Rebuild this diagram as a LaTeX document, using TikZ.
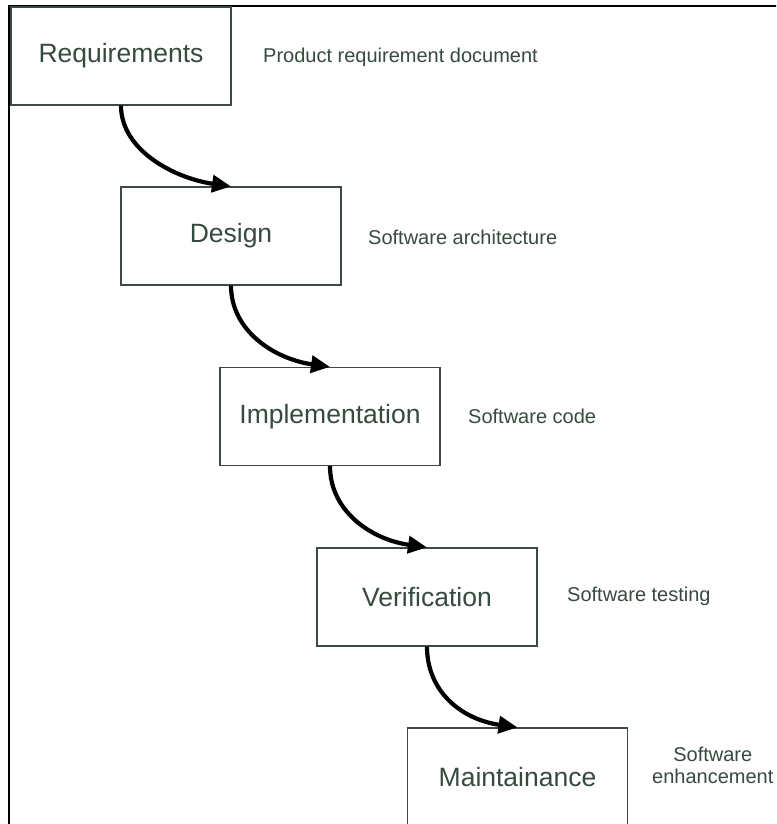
\documentclass[tikz,border=0pt]{standalone}
\usepackage{fontspec}
\setmainfont{Liberation Sans}
\usetikzlibrary{arrows.meta}
\definecolor{txt}{RGB}{55,74,62}
\definecolor{edge}{RGB}{60,74,66}
\tikzset{
  phase/.style={draw=edge, line width=1.2pt, minimum width=220pt, minimum height=98pt,
    inner sep=0pt, text=txt, font=\fontsize{26.5}{30}\selectfont},
  note/.style={anchor=west, inner sep=0pt, text=txt, font=\fontsize{20}{24}\selectfont},
  flow/.style={line width=4.2pt, -{Triangle[length=19pt,width=17pt]}},
  frame/.style={line width=2pt, black}
}
\begin{document}
\begin{tikzpicture}[x=1pt,y=-1pt]
\useasboundingbox (0,0) rectangle (776,824);
\clip (0,0) rectangle (776,824);
\fill[white] (0,0) rectangle (776,824);
\draw[frame] (9,824) -- (9,6) -- (777,6);

\node[phase] (req) at (121,56) {Requirements};
\node[phase] (des) at (231,236) {Design};
\node[phase] (imp) at (330,416.5) {Implementation};
\node[phase] (ver) at (427,597) {Verification};
\node[phase] (mai) at (517.5,777) {Maintainance};

\node[note] (nreq) at (263,57) {Product requirement document};
\node[note] (ndes) at (368,237) {Software architecture};
\node[note] (nimp) at (468,416) {Software code};
\node[note] (nver) at (567,596) {Software testing};
\node[note, align=center] (nmai) at (652,765) {Software\\[-2pt]enhancement};

\draw[flow] (req.south) .. controls +(0,45) and +(-56,-8) .. (des.north);
\draw[flow] (des.south) .. controls +(0,45) and +(-56,-8) .. (imp.north);
\draw[flow] (imp.south) .. controls +(0,45) and +(-56,-8) .. (ver.north);
\draw[flow] (ver.south) .. controls +(0,45) and +(-56,-8) .. (mai.north);
\end{tikzpicture}
\end{document}
